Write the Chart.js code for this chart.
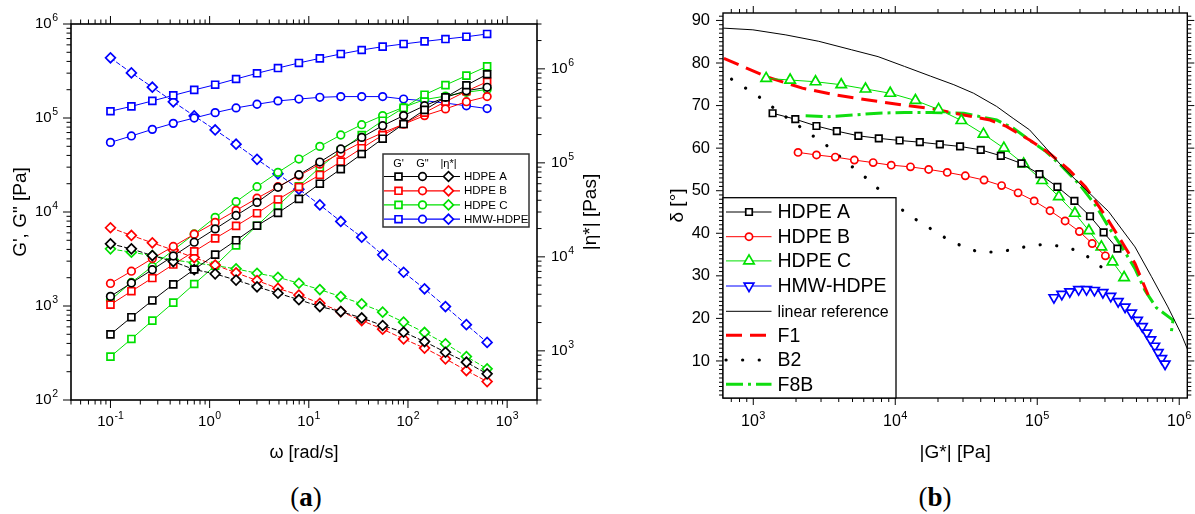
<!DOCTYPE html>
<html>
<head>
<meta charset="utf-8">
<title>HDPE rheology</title>
<script src="https://cdn.jsdelivr.net/npm/chart.js@4.4.1/dist/chart.umd.min.js"></script>
<style>
  html, body { margin: 0; padding: 0; background: #fff; }
  #fig { position: relative; width: 1195px; height: 514px; overflow: hidden; background: #fff; }
  canvas { position: absolute; top: 0; }
  #chartA { left: 0; }
  #chartB { left: 600px; }
  .panel { position: absolute; transform: translate(-50%, -50%); font: 27px "Liberation Serif", "DejaVu Serif", serif; white-space: nowrap; }
  .panel b { font-weight: bold; }
</style>
</head>
<body>
<div id="fig">
  <canvas id="chartA" width="600" height="470"></canvas>
  <canvas id="chartB" width="595" height="470"></canvas>
  <div class="panel" style="left:306px; top:497px;">(<b>a</b>)</div>
  <div class="panel" style="left:935px; top:497px;">(<b>b</b>)</div>
</div>
<script>
// ---- panel (a): frequency sweeps ----
const omega = [0.1, 0.1626, 0.2644, 0.4299, 0.6991, 1.137, 1.848, 3.005, 4.887, 7.946,
               12.92, 21.01, 34.16, 55.55, 90.32, 146.9, 238.8, 388.3, 628.3];

const gpA  = [499, 760, 1145, 1700, 2445, 3515, 5000, 7150, 9780, 13800, 20000, 28600, 41400, 60200, 86300, 122000, 166000, 223000, 292000];
const gppA = [1265, 1758, 2434, 3404, 4773, 6610, 9180, 12650, 18300, 24900, 34000, 46800, 62200, 82800, 106000, 135000, 166000, 195000, 212000];
const etaA = [13750, 12160, 10320, 8910, 7330, 6590, 5660, 4800, 4100, 3500, 2960, 2620, 2240, 1860, 1580, 1256, 966, 757, 569];

const gpB  = [1033, 1437, 1985, 2763, 3808, 5236, 7112, 9710, 13600, 18450, 24800, 34300, 47700, 65700, 86300, 114000, 149000, 193000, 243000];
const gppB = [1738, 2344, 3199, 4303, 5804, 7750, 10400, 14000, 18600, 24300, 32300, 42300, 55300, 69800, 85900, 106000, 125000, 149000, 169000];
const etaB = [20400, 16900, 14100, 11800, 9830, 8180, 6770, 5600, 4620, 3920, 3210, 2620, 2100, 1700, 1340, 1070, 822, 617, 471];

const gpC  = [289, 446, 698, 1085, 1714, 2684, 4413, 7150, 11670, 18800, 29800, 44900, 65900, 93600, 128000, 177000, 224000, 282000, 354000];
const gppC = [1159, 1782, 2636, 3923, 5838, 8770, 12880, 18600, 26400, 36600, 49900, 65900, 84900, 106000, 130000, 157000, 171000, 188000, 201000];
const etaC = [12160, 11200, 10300, 9290, 8630, 8070, 7450, 6690, 6070, 5240, 4490, 3780, 3160, 2580, 2020, 1570, 1190, 869, 644];

const gpH  = [118000, 133000, 152000, 174000, 199000, 226000, 260000, 299000, 340000, 385000, 431000, 480000, 529000, 574000, 613000, 653000, 692000, 732000, 783000];
const gppH = [55000, 64400, 75700, 87700, 100000, 114000, 128000, 140000, 152000, 159000, 166000, 169000, 169000, 169000, 159000, 153000, 144000, 135000, 126000];
const etaH = [1310000, 906000, 638000, 446000, 316000, 224000, 158000, 109000, 76400, 52500, 35700, 23800, 16200, 10500, 6860, 4570, 2960, 1900, 1230];

const namesA  = ['HDPE A', 'HDPE B', 'HDPE C', 'HMW-HDPE'];
const colorsA = ['#000000', '#ff0000', '#00e000', '#0000ff'];

const xTicksA  = [0.1, 1, 10, 100, 1000];
const yTicksA  = [1e2, 1e3, 1e4, 1e5, 1e6];
const y2TicksA = [1e3, 1e4, 1e5, 1e6];

// ---- panel (b): van Gurp-Palmen ----
const gsA = [1368, 1977, 2786, 3877, 5495, 7656, 10730, 14890, 20600, 28600, 40000, 55400, 77300, 103600, 138700, 182700, 235300, 293500, 367000];
const dA  = [68.2, 66.8, 65.2, 64.0, 62.9, 62.3, 61.8, 61.4, 60.9, 60.4, 59.6, 58.2, 56.4, 53.9, 50.9, 47.6, 44.0, 40.2, 36.4];
const gsB = [2067, 2788, 3782, 5151, 6986, 9365, 12800, 17190, 23230, 31140, 42200, 56100, 73300, 95100, 123000, 157100, 198000, 243700, 302000];
const dB  = [59.0, 58.4, 57.9, 57.2, 56.6, 56.0, 55.6, 55.0, 54.3, 53.5, 52.5, 51.2, 49.5, 47.6, 45.3, 42.9, 40.4, 37.6, 34.7];
const gsC = [1232, 1818, 2744, 4163, 6172, 9215, 13870, 20180, 29200, 41800, 58200, 80200, 108200, 142000, 184100, 231000, 283000, 339000, 409000];
const dC  = [76.4, 76.0, 75.6, 74.9, 73.9, 72.9, 71.2, 69.1, 66.5, 63.3, 60.0, 56.3, 52.4, 48.6, 44.7, 40.6, 36.8, 33.3, 29.6];
const gsH = [131100, 149000, 169400, 195700, 222500, 252900, 290000, 329500, 371500, 415600, 461000, 508000, 550000, 591000, 630000, 672000, 711000, 752000, 795000];
const dH  = [24.9, 25.7, 26.3, 26.8, 26.8, 26.6, 26.1, 25.2, 24.0, 22.7, 21.3, 19.6, 18.1, 16.6, 15.0, 13.5, 12.0, 10.6, 9.3];

const refX = [614, 994, 1697, 2893, 4934, 7568, 11610, 17770, 25870, 35630, 51760, 67650, 88260, 115300, 150700, 196700, 318000, 488000, 638000, 832000, 1031000, 1178000];
const refY = [88.2, 87.8, 86.6, 85.1, 83.1, 81.5, 79.2, 76.9, 74.9, 72.9, 69.8, 67.0, 64.3, 60.0, 55.6, 51.8, 45.1, 36.8, 29.8, 22.7, 16.4, 11.7];
const f1X  = [621, 1232, 2214, 3782, 6448, 10990, 18770, 30360, 46500, 60750, 88300, 121600, 167500, 218900, 310000, 394000, 488000, 604000];
const f1Y  = [81.1, 76.8, 74.1, 72.5, 71.3, 70.2, 69.2, 67.8, 66.6, 65.1, 61.9, 58.8, 54.9, 50.9, 43.5, 38.0, 32.9, 25.5];
const b2X  = [703, 884, 1094, 1335, 1651, 2017, 2465, 3135, 3800, 4627, 5735, 6908, 8425, 10260, 12340, 15560, 19080, 23870, 30360, 38620, 49100, 63450, 81450, 104800, 135400, 173600, 218900, 274000, 332000];
const b2Y  = [76.2, 74.1, 72.1, 69.9, 67.6, 65.6, 63.5, 61.2, 58.9, 56.4, 54.1, 51.6, 49.2, 46.6, 44.3, 42.3, 40.4, 38.4, 36.8, 35.6, 35.6, 36.0, 36.8, 37.3, 37.1, 36.4, 34.9, 32.4, 30.3];
const f8X  = [2338, 3397, 5070, 7568, 11610, 17770, 30360, 51760, 67650, 88260, 115300, 150700, 196700, 257000, 318000, 394000, 488000, 573000, 691000, 904000, 880000];
const f8Y  = [67.6, 67.4, 67.8, 68.2, 68.4, 68.4, 68.2, 66.6, 64.7, 61.9, 59.2, 55.6, 51.6, 46.6, 41.5, 36.8, 31.7, 26.6, 22.5, 19.6, 16.8];

const xTicksB = [1e3, 1e4, 1e5, 1e6];
const yTicksB = [10, 20, 30, 40, 50, 60, 70, 80, 90];

const FONT = '"Liberation Sans", Arial, sans-serif';
Chart.defaults.font.family = FONT;
Chart.defaults.color = '#000';
Chart.defaults.animation = false;

const near = (a, b) => Math.abs(a - b) <= 1e-9 * Math.max(Math.abs(a), Math.abs(b), 1);

// tick positions: 1..9 x 10^n inside the range, majors from the label list
function logTicks(min, max, majors) {
  const out = [];
  for (let e = Math.floor(Math.log10(min)); e <= Math.ceil(Math.log10(max)); e++) {
    for (let k = 1; k < 10; k++) {
      const v = k * Math.pow(10, e);
      if (v >= min * 0.99999 && v <= max * 1.00001) out.push({ value: v, major: majors.some(m => near(m, v)) });
    }
  }
  return out;
}
function linTicks(min, max, majors) {
  const out = [];
  for (let v = Math.ceil(min); v <= max; v++) out.push({ value: v, major: majors.includes(v) });
  return out;
}

function pts(xs, ys) { return xs.map((x, i) => ({ x: x, y: ys[i] })); }

function markerSeries(label, xs, ys, color, style, r, axis, dash, rot) {
  return {
    label: label, data: pts(xs, ys), yAxisID: axis, showLine: true,
    borderColor: color, borderWidth: 1, borderDash: dash,
    pointStyle: style, pointRadius: r, pointRotation: rot || 0,
    pointBorderColor: color, pointBackgroundColor: '#fff', pointBorderWidth: 1.7
  };
}
function lineSeries(label, xs, ys, color, width, dash, cap) {
  return {
    label: label, data: pts(xs, ys), showLine: true, borderColor: color, borderWidth: width,
    borderDash: dash, borderCapStyle: cap || 'butt', pointRadius: 0, pointStyle: false
  };
}

function drawMarker(ctx, style, x, y, r, rot, color, lw) {
  ctx.beginPath();
  if (style === 'circle') ctx.arc(x, y, r, 0, 2 * Math.PI);
  else if (style === 'rect') { const h = r * Math.SQRT1_2; ctx.rect(x - h, y - h, 2 * h, 2 * h); }
  else if (style === 'rectRot') { ctx.moveTo(x - r, y); ctx.lineTo(x, y - r); ctx.lineTo(x + r, y); ctx.lineTo(x, y + r); ctx.closePath(); }
  else if (style === 'triangle') {
    const s = rot === 180 ? -1 : 1;
    ctx.moveTo(x, y - s * r); ctx.lineTo(x + r * 0.866, y + s * r * 0.5); ctx.lineTo(x - r * 0.866, y + s * r * 0.5); ctx.closePath();
  }
  ctx.fillStyle = '#fff'; ctx.fill();
  ctx.setLineDash([]);
  ctx.strokeStyle = color; ctx.lineWidth = lw; ctx.stroke();
}

function drawSample(ctx, ds, x0, x1, xm, y) {
  ctx.save();
  ctx.strokeStyle = ds.borderColor; ctx.lineWidth = ds.borderWidth;
  ctx.setLineDash(ds.borderDash || []); ctx.lineCap = ds.borderCapStyle || 'butt';
  ctx.beginPath(); ctx.moveTo(x0, y); ctx.lineTo(x1, y); ctx.stroke();
  if (ds.pointRadius > 0) drawMarker(ctx, ds.pointStyle, xm, y, ds.pointRadius, ds.pointRotation, ds.pointBorderColor, ds.pointBorderWidth);
  ctx.restore();
}

function drawTickLabel(ctx, L, v, p, a) {
  let x, y, align;
  if (L.side === 'bottom') { x = p; y = a.bottom + L.off; align = 'center'; }
  else if (L.side === 'left') { x = a.left - L.off; y = p; align = 'right'; }
  else { x = a.right + L.off; y = p; align = 'left'; }
  ctx.textBaseline = 'middle';
  if (L.pow) {
    const e = String(Math.round(Math.log10(v)));
    ctx.font = L.size + 'px ' + FONT;
    const w1 = ctx.measureText('10').width;
    ctx.font = L.sup + 'px ' + FONT;
    const w2 = ctx.measureText(e).width + 0.5;
    const w = w1 + w2;
    const x0 = align === 'center' ? x - w / 2 : (align === 'right' ? x - w : x);
    ctx.textAlign = 'left';
    ctx.font = L.size + 'px ' + FONT;
    ctx.fillText('10', x0, y);
    ctx.font = L.sup + 'px ' + FONT;
    ctx.fillText(e, x0 + w1 + 0.5, y - L.rise);
  } else {
    ctx.font = L.size + 'px ' + FONT;
    ctx.textAlign = align;
    ctx.fillText(String(v), x, y);
  }
}

// frame, tick marks (major/minor) and tick labels
const axisDecor = {
  id: 'axisDecor',
  afterDatasetsDraw(chart, args, o) {
    const ctx = chart.ctx, a = chart.chartArea;
    ctx.save();
    ctx.strokeStyle = '#000'; ctx.fillStyle = '#000';
    ctx.lineWidth = o.tickWidth;
    Object.keys(o.axes).forEach(id => {
      const cfg = o.axes[id], s = chart.scales[id];
      s.ticks.forEach(t => {
        const p = s.getPixelForValue(t.value);
        const len = t.major ? o.major : o.minor;
        ctx.beginPath();
        cfg.sides.forEach(side => {
          if (side === 'bottom') { ctx.moveTo(p, a.bottom); ctx.lineTo(p, a.bottom + len); }
          if (side === 'top') { ctx.moveTo(p, a.top); ctx.lineTo(p, a.top - len); }
          if (side === 'left') { ctx.moveTo(a.left, p); ctx.lineTo(a.left - len, p); }
          if (side === 'right') { ctx.moveTo(a.right, p); ctx.lineTo(a.right + len, p); }
        });
        ctx.stroke();
        if (t.major && cfg.label) drawTickLabel(ctx, cfg.label, t.value, p, a);
      });
    });
    ctx.lineWidth = o.frameWidth;
    ctx.strokeRect(a.left, a.top, a.right - a.left, a.bottom - a.top);
    if (o.sideTitle) {
      const st = o.sideTitle;
      ctx.translate(st.x, (a.top + a.bottom) / 2);
      ctx.rotate(-Math.PI / 2);
      ctx.font = st.size + 'px ' + FONT;
      ctx.textAlign = 'center'; ctx.textBaseline = 'middle';
      ctx.fillText(st.text, 0, 0);
    }
    ctx.restore();
  }
};

// legend of panel (a): three symbol columns per sample
const legendA = {
  id: 'legendA',
  afterDraw(chart, args, o) {
    const ctx = chart.ctx, ds = chart.data.datasets;
    ctx.save();
    ctx.fillStyle = '#fff'; ctx.fillRect(o.x, o.y, o.w, o.h);
    ctx.strokeStyle = '#333'; ctx.lineWidth = 1.5; ctx.strokeRect(o.x, o.y, o.w, o.h);
    ctx.fillStyle = '#000'; ctx.textBaseline = 'middle'; ctx.textAlign = 'center';
    ctx.font = '11px ' + FONT;
    o.headers.forEach((h, j) => ctx.fillText(h, o.cols[j], o.headY));
    namesA.forEach((name, s) => {
      const y = o.rows[s];
      ctx.strokeStyle = colorsA[s]; ctx.lineWidth = 1.2; ctx.setLineDash([]);
      ctx.beginPath(); ctx.moveTo(o.x + 1, y); ctx.lineTo(o.lineEnd, y); ctx.stroke();
      for (let j = 0; j < 3; j++) {
        const d = ds[s * 3 + j];
        drawMarker(ctx, d.pointStyle, o.cols[j], y, d.pointRadius, 0, d.pointBorderColor, d.pointBorderWidth);
      }
      ctx.fillStyle = '#000'; ctx.textAlign = 'left'; ctx.font = '11.5px ' + FONT;
      ctx.fillText(name, o.textX, y + 0.5);
    });
    ctx.restore();
  }
};

// legend of panel (b)
const legendB = {
  id: 'legendB',
  afterDraw(chart, args, o) {
    const ctx = chart.ctx, ds = chart.data.datasets, a = chart.chartArea;
    ctx.save();
    ctx.fillStyle = '#fff'; ctx.fillRect(a.left, o.top, o.right - a.left, a.bottom - o.top);
    ctx.strokeStyle = '#000'; ctx.lineWidth = 1.3; ctx.strokeRect(a.left, o.top, o.right - a.left, a.bottom - o.top);
    ds.forEach((d, i) => {
      const y = o.rows[i];
      drawSample(ctx, d, a.left + 3, o.lineEnd, o.markX, y);
      ctx.fillStyle = '#000'; ctx.textAlign = 'left'; ctx.textBaseline = 'middle';
      ctx.font = o.sizes[i] + 'px ' + FONT;
      ctx.fillText(d.label, o.textX, y + 1);
    });
    ctx.restore();
  }
};

const gpAll = [gpA, gpB, gpC, gpH], gppAll = [gppA, gppB, gppC, gppH], etaAll = [etaA, etaB, etaC, etaH];
const dsA = [];
namesA.forEach((n, s) => {
  dsA.push(markerSeries(n + " G'", omega, gpAll[s], colorsA[s], 'rect', 4.9, 'y', []));
  dsA.push(markerSeries(n + ' G"', omega, gppAll[s], colorsA[s], 'circle', 3.8, 'y', []));
  dsA.push(markerSeries(n + ' |η*|', omega, etaAll[s], colorsA[s], 'rectRot', 4.9, 'y2', [5, 2]));
});

const hidden = { grid: { display: false, drawTicks: false }, border: { display: false }, ticks: { display: false } };

new Chart(document.getElementById('chartA'), {
  type: 'scatter',
  data: { datasets: dsA },
  options: {
    responsive: false, events: [],
    layout: { padding: { top: 24, left: 0, right: 0, bottom: 0 } },
    plugins: {
      legend: { display: false }, tooltip: { enabled: false },
      axisDecor: {
        tickWidth: 1, frameWidth: 1.6, major: 8, minor: 4.5,
        axes: {
          x: { sides: ['bottom', 'top'], label: { pow: true, side: 'bottom', off: 22, size: 15, sup: 10.5, rise: 5.5 } },
          y: { sides: ['left'], label: { pow: true, side: 'left', off: 13, size: 15, sup: 10.5, rise: 6 } },
          y2: { sides: ['right'], label: { pow: true, side: 'right', off: 14, size: 15, sup: 10.5, rise: 6 } }
        },
        sideTitle: { text: '|η*| [Pas]', x: 591, size: 19 }
      },
      legendA: {
        x: 383, y: 154, w: 146, h: 73, headY: 164, headers: ["G'", 'G"', '|η*|'],
        cols: [398.5, 422.5, 448.5], rows: [176.5, 190.8, 204.9, 219.2], lineEnd: 460, textX: 464
      }
    },
    scales: {
      x: Object.assign({}, hidden, {
        type: 'logarithmic', position: 'bottom', min: 0.04, max: 2000,
        afterBuildTicks: s => { s.ticks = logTicks(s.min, s.max, xTicksA); },
        afterFit: s => { s.height = 70; },
        title: { display: true, text: 'ω [rad/s]', font: { size: 18 }, padding: { top: 0, bottom: 6 } }
      }),
      y: Object.assign({}, hidden, {
        type: 'logarithmic', position: 'left', min: 100, max: 1e6,
        afterBuildTicks: s => { s.ticks = logTicks(s.min, s.max, yTicksA); },
        afterFit: s => { s.width = 71; },
        title: { display: true, text: 'G\', G" [Pa]', font: { size: 19 }, padding: { top: 9.6, bottom: 0 } }
      }),
      y2: Object.assign({}, hidden, {
        type: 'logarithmic', position: 'right', min: 300, max: 3e6,
        afterBuildTicks: s => { s.ticks = logTicks(s.min, s.max, y2TicksA); },
        afterFit: s => { s.width = 63; }
      })
    }
  },
  plugins: [axisDecor, legendA]
});

const dsB = [
  markerSeries('HDPE A', gsA, dA, '#000000', 'rect', 4.6, 'y', []),
  markerSeries('HDPE B', gsB, dB, '#ff0000', 'circle', 3.6, 'y', []),
  markerSeries('HDPE C', gsC, dC, '#00e000', 'triangle', 6, 'y', []),
  markerSeries('HMW-HDPE', gsH, dH, '#0000ff', 'triangle', 5.6, 'y', [], 180),
  lineSeries('linear reference', refX, refY, '#000000', 1, []),
  lineSeries('F1', f1X, f1Y, '#ff0000', 3, [16, 8]),
  lineSeries('B2', b2X, b2Y, '#000000', 3.2, [0.1, 16.5], 'round'),
  lineSeries('F8B', f8X, f8Y, '#10dd10', 3, [17, 5, 3, 5])
];

new Chart(document.getElementById('chartB'), {
  type: 'scatter',
  data: { datasets: dsB },
  options: {
    responsive: false, events: [],
    layout: { padding: { top: 13, left: 0, right: 2, bottom: 0 } },
    plugins: {
      legend: { display: false }, tooltip: { enabled: false },
      axisDecor: {
        tickWidth: 1, frameWidth: 1.4, major: 7, minor: 4,
        axes: {
          x: { sides: ['bottom', 'top'], label: { pow: true, side: 'bottom', off: 23.5, size: 16, sup: 11, rise: 5.5 } },
          y: { sides: ['left', 'right'], label: { pow: false, side: 'left', off: 13, size: 16.5 } }
        }
      },
      legendB: {
        top: 197.7, right: 296, rows: [212, 236.7, 260.9, 286, 311.3, 335.2, 360, 384.3],
        lineEnd: 171.5, markX: 149, textX: 177.5, sizes: [19.5, 19.5, 19.5, 19.5, 16, 19.5, 19.5, 19.5]
      }
    },
    scales: {
      x: Object.assign({}, hidden, {
        type: 'logarithmic', position: 'bottom', min: 612, max: 1.14e6,
        afterBuildTicks: s => { s.ticks = logTicks(s.min, s.max, xTicksB); },
        afterFit: s => { s.height = 72; },
        title: { display: true, text: '|G*| [Pa]', font: { size: 19 }, padding: { top: 0, bottom: 5.6 } }
      }),
      y: Object.assign({}, hidden, {
        type: 'linear', position: 'left', min: 1.3, max: 91.75,
        afterBuildTicks: s => { s.ticks = linTicks(s.min, s.max, yTicksB); },
        afterFit: s => { s.width = 123; },
        title: { display: true, text: 'δ [°]', font: { size: 19 }, padding: { top: 66.6, bottom: 0 } }
      })
    }
  },
  plugins: [axisDecor, legendB]
});
</script>
</body>
</html>
